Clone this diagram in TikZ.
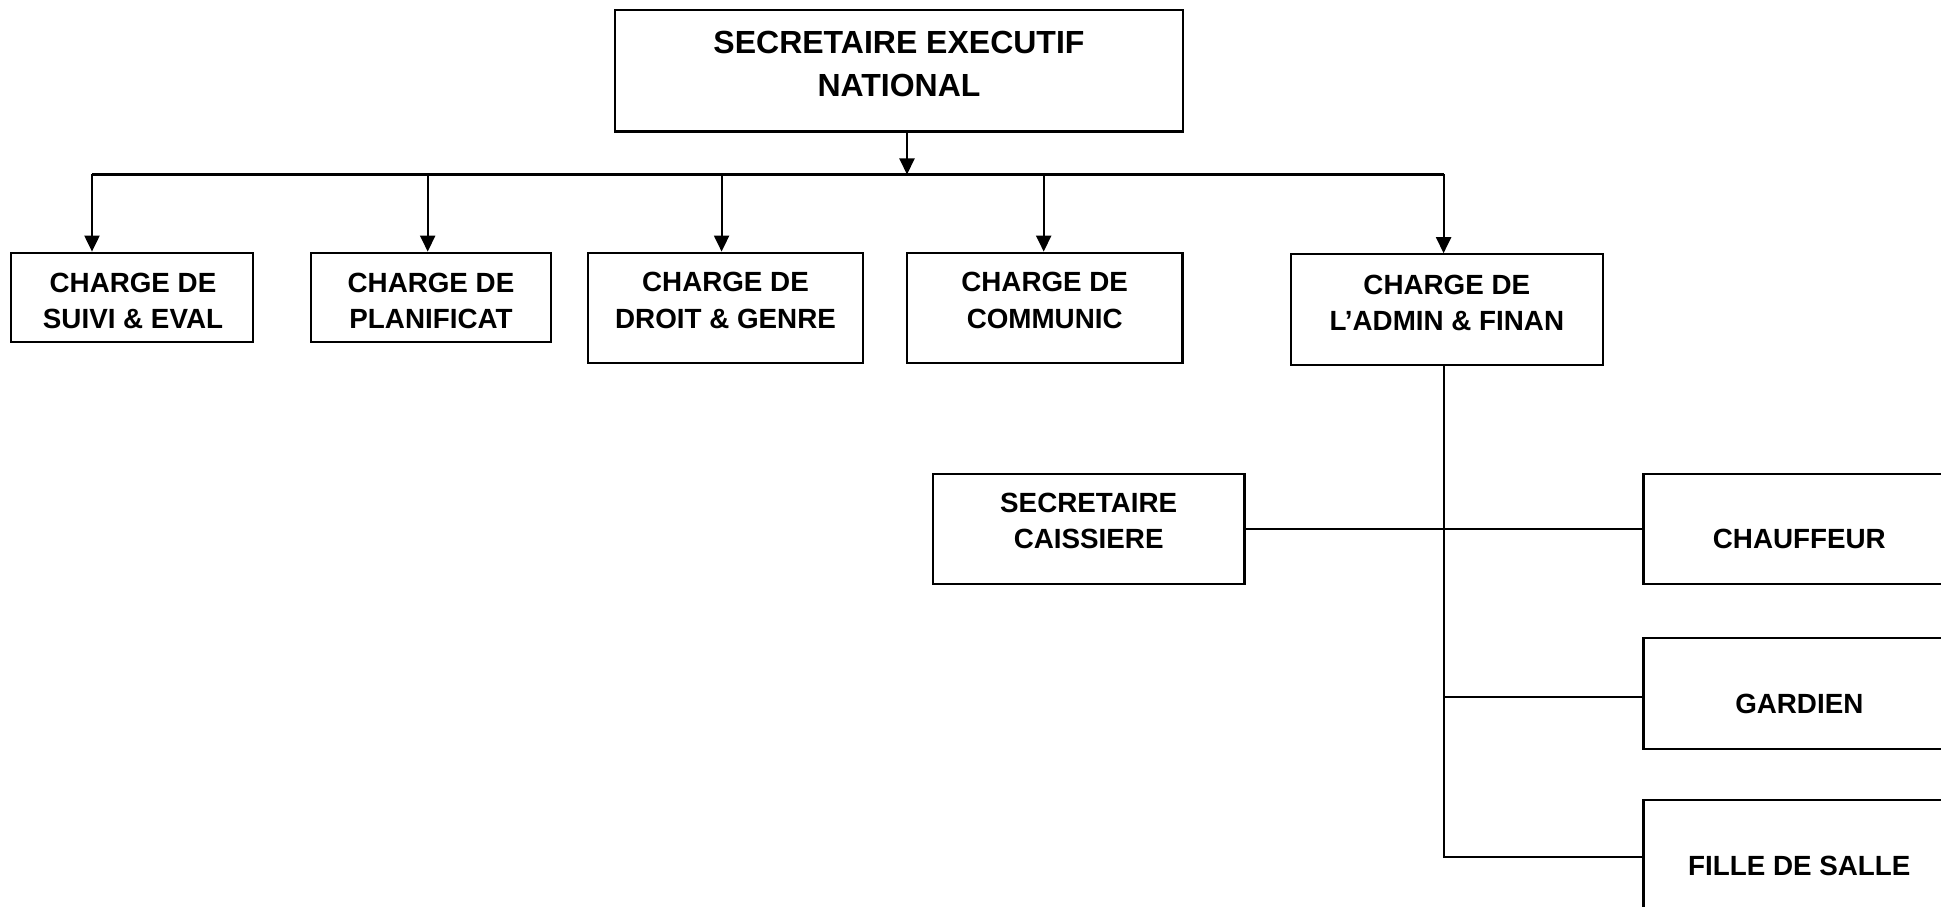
\documentclass[tikz,border=0pt]{standalone}
\usepackage{fontspec}
\setmainfont{Liberation Sans}
\usetikzlibrary{arrows.meta}
\begin{document}
\begin{tikzpicture}[x=0.01cm,y=-0.01cm, line width=0.6pt,
  box/.style={draw, rectangle, inner sep=0pt},
  big/.style={font=\fontsize{9.1}{11.95}\selectfont\bfseries, align=center, inner sep=0pt},
  small/.style={font=\fontsize{7.9}{10.3}\selectfont\bfseries, align=center, inner sep=0pt},
  arr/.style={-{Triangle[length=0.16cm,width=0.15cm]}}]
\useasboundingbox (0,0) rectangle (1941,907);
\clip (0,0) rectangle (1941,907);
% boxes
\node[box, minimum width=5.68cm, minimum height=1.215cm] (top) at (899,70.75) {};
\node[box, minimum width=2.41cm, minimum height=0.89cm] (b1) at (132,297.2) {};
\node[box, minimum width=2.40cm, minimum height=0.89cm] (b2) at (431,297.2) {};
\node[box, minimum width=2.75cm, minimum height=1.10cm] (b3) at (725.5,307.7) {};
\node[box, minimum width=2.754cm, minimum height=1.10cm] (b4) at (1044.7,307.7) {};
\node[box, minimum width=3.116cm, minimum height=1.107cm] (b5) at (1446.8,309.65) {};
\node[box, minimum width=3.115cm, minimum height=1.10cm] (sec) at (1088.7,529) {};
\node[box, minimum width=3.115cm, minimum height=1.10cm] (chauf) at (1799.3,529) {};
\node[box, minimum width=3.115cm, minimum height=1.11cm] (gard) at (1799.3,693.5) {};
\node[box, minimum width=3.115cm, minimum height=1.10cm] (fille) at (1799.3,855) {};
% texts
\node[big] (ttop) at (899,64) {SECRETAIRE EXECUTIF\\NATIONAL};
\node[small] (t1) at (133,300.8) {CHARGE DE\\SUIVI \& EVAL};
\node[small] (t2) at (431,300.8) {CHARGE DE\\PLANIFICAT};
\node[small] (t3) at (725.5,300.4) {CHARGE DE\\DROIT \& GENRE};
\node[small] (t4) at (1044.7,300.4) {CHARGE DE\\COMMUNIC};
\node[small] (t5) at (1446.8,303.3) {CHARGE DE\\L’ADMIN \& FINAN};
\node[small] (tsec) at (1088.7,521) {SECRETAIRE\\CAISSIERE};
\node[small] (tchauf) at (1799.3,539) {CHAUFFEUR};
\node[small] (tgard) at (1799.3,704) {GARDIEN};
\node[small] (tfille) at (1799.3,866) {FILLE DE SALLE};
% connector coordinates
\coordinate (tj) at (907,174.5);
\coordinate (a1) at (92,174.5);
\coordinate (a2) at (427.7,174.5);
\coordinate (a3) at (721.6,174.5);
\coordinate (a4) at (1043.7,174.5);
\coordinate (a5) at (1443.6,174.5);
\coordinate (vtop) at (1443.6,365);
\coordinate (vbot) at (1443.6,857);
\coordinate (g1) at (1443.6,697);
% connectors
\draw[arr] (top.south -| tj) -- (tj);
\draw (a1) -- (a5);
\draw[arr] (a1) -- (a1 |- b1.north);
\draw[arr] (a2) -- (a2 |- b2.north);
\draw[arr] (a3) -- (a3 |- b3.north);
\draw[arr] (a4) -- (a4 |- b4.north);
\draw[arr] (a5) -- (a5 |- b5.north);
\draw (vtop) -- (vbot) -- (vbot -| fille.west);
\draw (sec.east) -- (sec.east -| chauf.west);
\draw (g1) -- (g1 -| gard.west);
\end{tikzpicture}
\end{document}
